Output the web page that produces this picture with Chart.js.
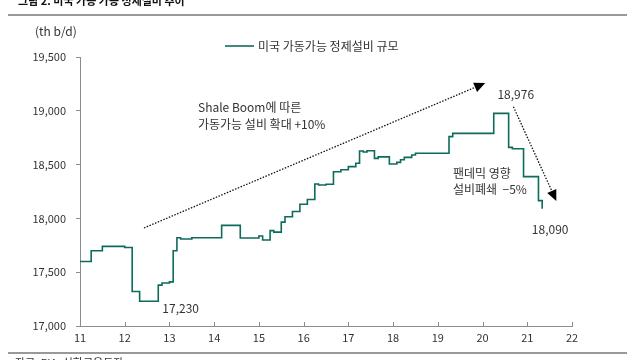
<!DOCTYPE html>
<html><head><meta charset="utf-8">
<script src="https://cdn.jsdelivr.net/npm/chart.js@4"></script>
<style>
html,body{margin:0;padding:0;background:#fff;overflow:hidden}
#wrap{position:relative;width:640px;height:360px}
canvas{position:absolute;left:0;top:0}
</style></head><body>
<div id="wrap"><canvas id="c" width="640" height="360"></canvas></div>
<script>
// ---- data ----
const months = ['2011-01','2011-04','2011-07','2012-01','2012-03','2012-05','2012-10','2012-11','2013-01','2013-02','2013-03','2013-04','2013-07','2014-03','2014-08','2015-01','2015-02','2015-04','2015-05','2015-07','2015-08','2015-10','2015-12','2016-02','2016-04','2016-05','2016-07','2016-09','2016-11','2017-01','2017-03','2017-04','2017-05','2017-06','2017-08','2017-09','2017-12','2018-02','2018-03','2018-04','2018-06','2018-07','2019-04','2019-05','2020-04','2020-08','2020-09','2020-12','2021-04','2021-05'];
const capacity = [17600,17700,17740,17730,17320,17230,17380,17400,17410,17700,17820,17808,17820,17935,17818,17836,17799,17886,17872,17965,18016,18064,18132,18175,18320,18311,18318,18434,18452,18481,18512,18626,18617,18629,18558,18572,18505,18521,18545,18567,18589,18605,18760,18790,18976,18660,18648,18388,18165,18090];
const xTickLabels = [11,12,13,14,15,16,17,18,19,20,21,22];
const yTickValues = [17000,17500,18000,18500,19000,19500];
const seriesName = '미국 가동가능 정제설비 규모';
const titleText = '그림 2. 미국 가동 가능 정제설비 추이';
const sourceText = '자료: EIA, 신한금융투자';
const unitText = '(th b/d)';
const trendUp = {from:[12.43,17911], to:[20.06,19258]};
const trendDown = {from:[20.69,19038], to:[21.65,18162]};
const noteUp = ['Shale Boom에 따른','가동가능 설비 확대 +10%'];
const noteDown = ['팬데믹 영향','설비폐쇄  \u22125%'];
const callouts = [{month:'2012-05', text:'17,230'},{month:'2020-04', text:'18,976'},{month:'2021-05', text:'18,090'}];

function toX(s){const [y,m]=s.split('-').map(Number);return (y-2000)+(m-1)/12;}
const points = months.map((m,i)=>({x:toX(m), y:capacity[i]}));

const FONT = "'Noto Sans CJK KR','Noto Sans',sans-serif";
const LINE = '#0e6b5c';
const AXIS = '#8c8c8c';
const TXT = '#333333';

const deco = {
  id:'deco',
  afterDraw(chart){
    const ctx = chart.ctx, xs = chart.scales.x, ys = chart.scales.y, ca = chart.chartArea;
    ctx.save();
    // inward x ticks
    ctx.strokeStyle = AXIS; ctx.lineWidth = 1;
    xTickLabels.forEach(v=>{
      const px = Math.round(xs.getPixelForValue(v))+0.5;
      ctx.beginPath(); ctx.moveTo(px, ca.bottom); ctx.lineTo(px, ca.bottom-4); ctx.stroke();
    });
    // rules
    ctx.strokeStyle = '#999'; ctx.lineWidth = 2;
    ctx.beginPath(); ctx.moveTo(8,15); ctx.lineTo(627,15); ctx.stroke();
    ctx.beginPath(); ctx.moveTo(8,353); ctx.lineTo(627,353); ctx.stroke();
    // title (cut at top)
    ctx.fillStyle = '#111'; ctx.font = "bold 11px "+FONT; ctx.textBaseline='alphabetic'; ctx.textAlign='left';
    ctx.fillText(titleText, 18, 5);
    // source (cut at bottom)
    ctx.fillStyle = TXT; ctx.font = "11px "+FONT; ctx.textBaseline='top';
    ctx.fillText(sourceText, 15, 357);
    // unit
    ctx.font = "12px "+FONT; ctx.textBaseline='middle';
    ctx.fillText(unitText, 35, 31);
    // legend
    ctx.strokeStyle = LINE; ctx.lineWidth = 1.6;
    ctx.beginPath(); ctx.moveTo(225,46); ctx.lineTo(254,46); ctx.stroke();
    ctx.fillStyle = TXT; ctx.fillText(seriesName, 258, 46);
    // notes
    ctx.fillText(noteUp[0], 198, 107);
    ctx.fillText(noteUp[1], 198, 124);
    ctx.fillText(noteDown[0], 453, 173);
    ctx.fillText(noteDown[1], 453, 189);
    // callouts
    ctx.textAlign='center';
    const offs = [[41,7],[22,-19],[8,21]];
    callouts.forEach((c,i)=>{
      const idx = months.indexOf(c.month);
      const px = xs.getPixelForValue(toX(c.month)), py = ys.getPixelForValue(capacity[idx]);
      ctx.fillText(c.text, px+offs[i][0], py+offs[i][1]);
    });
    // arrows
    function arrow(a){
      const x1=xs.getPixelForValue(a.from[0]), y1=ys.getPixelForValue(a.from[1]);
      const x2=xs.getPixelForValue(a.to[0]), y2=ys.getPixelForValue(a.to[1]);
      const ang=Math.atan2(y2-y1,x2-x1), L=11, W=5;
      const bx=x2-L*Math.cos(ang), by=y2-L*Math.sin(ang);
      ctx.strokeStyle='#111'; ctx.lineWidth=1.3; ctx.setLineDash([1.5,1.5]);
      ctx.beginPath(); ctx.moveTo(x1,y1); ctx.lineTo(bx,by); ctx.stroke();
      ctx.setLineDash([]);
      ctx.fillStyle='#000';
      ctx.beginPath(); ctx.moveTo(x2,y2);
      ctx.lineTo(bx+W*Math.sin(ang), by-W*Math.cos(ang));
      ctx.lineTo(bx-W*Math.sin(ang), by+W*Math.cos(ang));
      ctx.closePath(); ctx.fill();
    }
    arrow(trendUp); arrow(trendDown);
    ctx.restore();
  }
};

new Chart(document.getElementById('c'), {
  type:'line',
  data:{datasets:[{label:seriesName, data:points, borderColor:LINE, borderWidth:1.6, pointRadius:0, stepped:true, fill:false}]},
  options:{
    responsive:false, animation:false, devicePixelRatio:1,
    layout:{padding:{top:57,right:68,bottom:0,left:0}},
    plugins:{legend:{display:false}, tooltip:{enabled:false}},
    font:{family:FONT},
    scales:{
      x:{type:'linear', min:11, max:22,
         afterBuildTicks(s){s.ticks = xTickLabels.map(v=>({value:v}));},
         afterFit(s){s.height=34;},
         grid:{display:true, drawOnChartArea:false, drawTicks:false, color:AXIS},
         border:{display:true, color:AXIS, width:1},
         ticks:{padding:5, color:TXT, font:{family:FONT,size:11}, maxRotation:0, autoSkip:false, callback:v=>String(v)}},
      y:{min:17000, max:19500,
         afterBuildTicks(s){s.ticks = yTickValues.map(v=>({value:v}));},
         afterFit(s){s.width=80;},
         grid:{display:true, drawOnChartArea:false, drawTicks:true, tickLength:4, color:AXIS},
         border:{display:true, color:AXIS, width:1},
         ticks:{padding:10, color:TXT, font:{family:FONT,size:11}, callback:v=>v.toLocaleString('en-US')}}
    }
  },
  plugins:[deco]
});
</script>
</body></html>
